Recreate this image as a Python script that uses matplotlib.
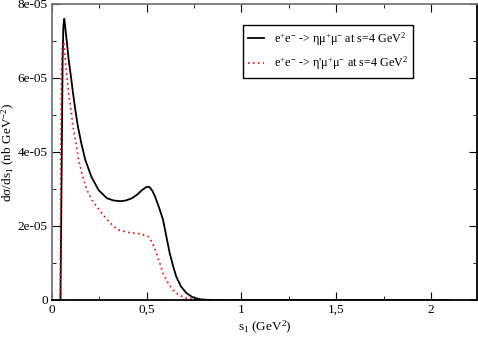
import matplotlib
matplotlib.use('Agg')
import matplotlib.pyplot as plt
import matplotlib.ticker as ticker

plt.rcParams['font.family'] = ['Liberation Serif', 'DejaVu Serif']
plt.rcParams['mathtext.fontset'] = 'custom'
plt.rcParams['mathtext.rm'] = 'Liberation Serif'
plt.rcParams['mathtext.it'] = 'Liberation Serif'

# eta mu+ mu- (values in units of 1e-5 nb GeV^-2)
s_eta = [0.0447, 0.05, 0.056, 0.06, 0.065, 0.079, 0.088, 0.1, 0.111, 0.123,
         0.137, 0.155, 0.176, 0.208, 0.246, 0.29, 0.325, 0.361, 0.39, 0.422,
         0.45, 0.475, 0.5, 0.515, 0.53, 0.545, 0.565, 0.586, 0.605, 0.621,
         0.64, 0.656, 0.68, 0.709, 0.74, 0.779, 0.82, 0.9, 1.0, 1.2, 1.5,
         1.8, 2.0, 2.1]
y_eta = [0.0, 3.0, 6.5, 7.4, 7.6, 6.94, 6.49, 6.04, 5.59, 5.14,
         4.68, 4.23, 3.78, 3.33, 2.97, 2.75, 2.69, 2.67, 2.69, 2.75,
         2.85, 2.97, 3.06, 3.05, 2.95, 2.78, 2.5, 2.17, 1.68, 1.27,
         0.9, 0.63, 0.37, 0.19, 0.08, 0.02, 0.005, 0.0, 0.0, 0.0, 0.0,
         0.0, 0.0, 0.0]

# eta' mu+ mu-
s_etap = [0.0447, 0.046, 0.05, 0.055, 0.062, 0.07, 0.079, 0.088, 0.1, 0.111,
          0.127, 0.141, 0.162, 0.185, 0.211, 0.243, 0.27, 0.3, 0.33, 0.358,
          0.41, 0.463, 0.507, 0.53, 0.551, 0.57, 0.586, 0.61, 0.638, 0.67,
          0.709, 0.75, 0.8, 0.9, 1.0, 1.086]
y_etap = [0.0, 4.0, 6.2, 6.8, 6.98, 6.49, 6.04, 5.59, 5.14, 4.68,
          4.23, 3.78, 3.33, 2.97, 2.7, 2.48, 2.3, 2.12, 1.97, 1.88,
          1.82, 1.79, 1.72, 1.55, 1.27, 0.98, 0.72, 0.48, 0.27, 0.13,
          0.05, 0.015, 0.003, 0.0, 0.0, 0.0]

xticks = [0, 0.5, 1, 1.5, 2]
xlabels = ['0', '0,5', '1', '1,5', '2']
yticks = [0, 2e-5, 4e-5, 6e-5, 8e-5]
ylabels = ['0', '2e-05', '4e-05', '6e-05', '8e-05']

fig = plt.figure(figsize=(4.78, 3.37), dpi=100)
ax = fig.add_axes([52/478, 37/337, 425/478, 296/337])

ax.plot(s_eta, [v*1e-5 for v in y_eta], color='black', lw=1.3,
        label=r'e$^{+}$e$^{-}$ -> ημ$^{+}$μ$^{-}$ at s=4 GeV$^{2}$')
ax.plot(s_etap, [v*1e-5 for v in y_etap], color='red', lw=1.2, ls=(0, (1, 2)),
        label=r"e$^{+}$e$^{-}$ -> η'μ$^{+}$μ$^{-}$ at s=4 GeV$^{2}$")

ax.set_xlim(0, 2.243)
ax.set_ylim(0, 8e-5)
ax.set_xticks(xticks)
ax.set_xticklabels(xlabels)
ax.set_yticks(yticks)
ax.set_yticklabels(ylabels)
ax.xaxis.set_minor_locator(ticker.MultipleLocator(0.25))
ax.yaxis.set_minor_locator(ticker.MultipleLocator(1e-5))
ax.tick_params(which='both', direction='in', top=True, right=True, labelsize=9.5, pad=3)
ax.tick_params(which='major', length=6)
ax.tick_params(which='minor', length=3)

for side in ['left', 'top']:
    ax.spines[side].set_color('#777777')
for side in ax.spines:
    ax.spines[side].set_linewidth(1.3)

ax.set_xlabel(r's$_1$ (GeV$^2$)', fontsize=9.5, labelpad=2)
ax.set_ylabel(r'dσ/ds$_1$ (nb GeV$^{-2}$)', fontsize=9.5)
ax.yaxis.set_label_coords(-0.082, 0.5)

leg = ax.legend(loc='upper left', bbox_to_anchor=(0.449, 0.929), borderaxespad=0,
                fontsize=8.7, fancybox=False, framealpha=1, edgecolor='black',
                handlelength=1.3, handletextpad=0.8, borderpad=0.45,
                labelspacing=0.55)
leg.get_frame().set_linewidth(1.0)

plt.savefig('out.png', dpi=100)
